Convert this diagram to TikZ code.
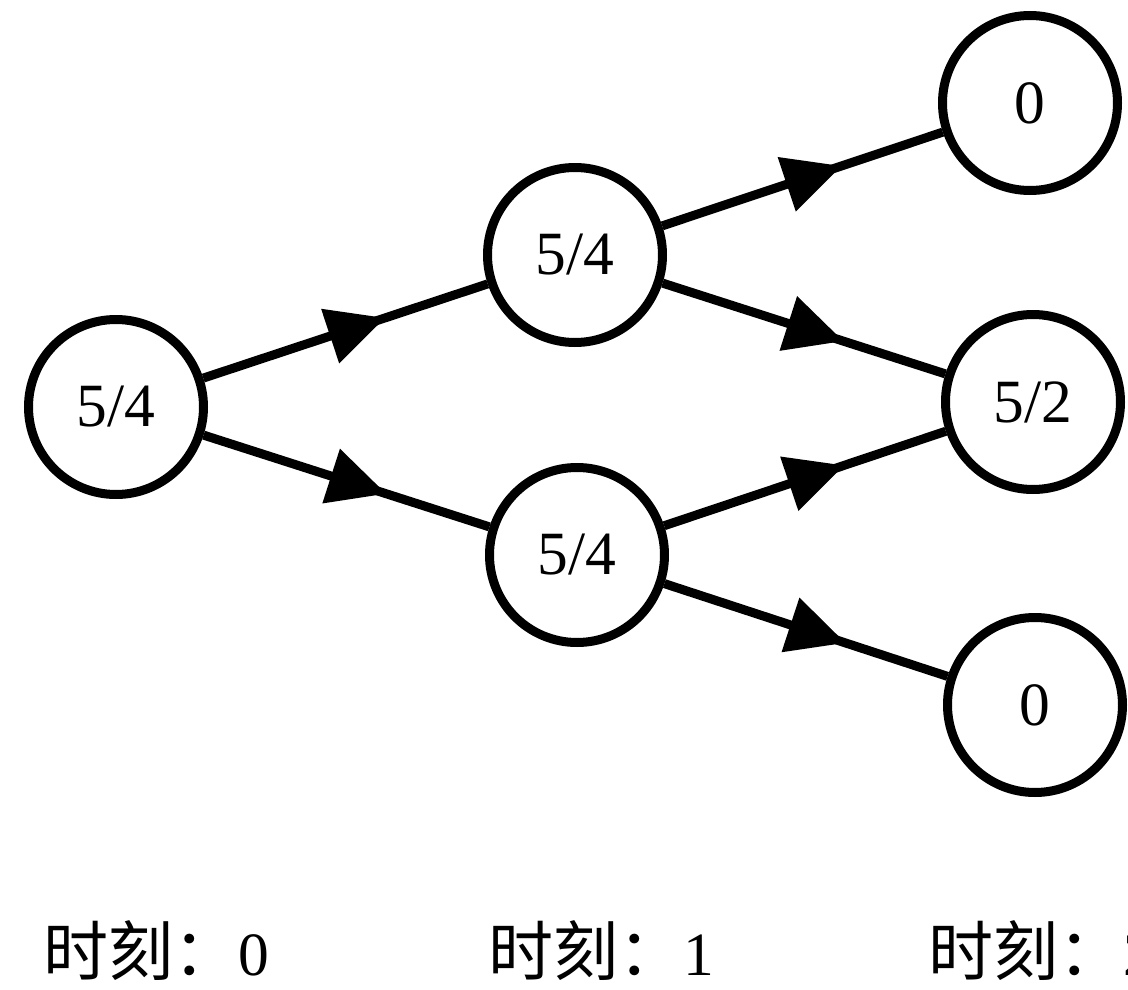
\documentclass[tikz,border=0pt]{standalone}
\usepackage{fontspec}
\setmainfont{Liberation Serif}
\newfontfamily\cjk{Noto Sans CJK SC}
\usetikzlibrary{arrows.meta,decorations.markings}

\begin{document}
\begin{tikzpicture}[
    every node/.style={font=\fontsize{17.5}{20}\selectfont},
    state/.style={circle, draw, line width=0.09cm, minimum size=1.75cm, inner sep=0pt},
    flow/.style={line width=0.09cm, postaction={decorate},
      decoration={markings, mark=at position 0.64 with {\arrow{Triangle[length=0.58cm, width=0.55cm]}}}},
    when/.style={anchor=base west, inner sep=0pt},
    ]
    \useasboundingbox (0,0) rectangle (11.28,-9.90);

    % Time 0
    \node[state] (root) at (1.16,-4.07) {5/4};

    % Time 1
    \node[state] (up) at (5.75,-2.55) {5/4};
    \node[state] (down) at (5.77,-5.55) {5/4};

    % Time 2
    \node[state] (upup) at (10.30,-1.03) {0};
    \node[state] (mid) at (10.33,-4.02) {5/2};
    \node[state] (downdown) at (10.35,-7.05) {0};

    % Edges
    \draw[flow] (root) -- (up);
    \draw[flow] (root) -- (down);
    \draw[flow] (up) -- (upup);
    \draw[flow] (up) -- (mid);
    \draw[flow] (down) -- (mid);
    \draw[flow] (down) -- (downdown);

    % Time labels
    \node[when] (t0) at (0.43,-9.75) {{\cjk\fontsize{18.5}{20}\selectfont 时刻：}0};
    \node[when] (t1) at (4.88,-9.75) {{\cjk\fontsize{18.5}{20}\selectfont 时刻：}1};
    \node[when] (t2) at (9.28,-9.75) {{\cjk\fontsize{18.5}{20}\selectfont 时刻：}2};
  \end{tikzpicture}
\end{document}
